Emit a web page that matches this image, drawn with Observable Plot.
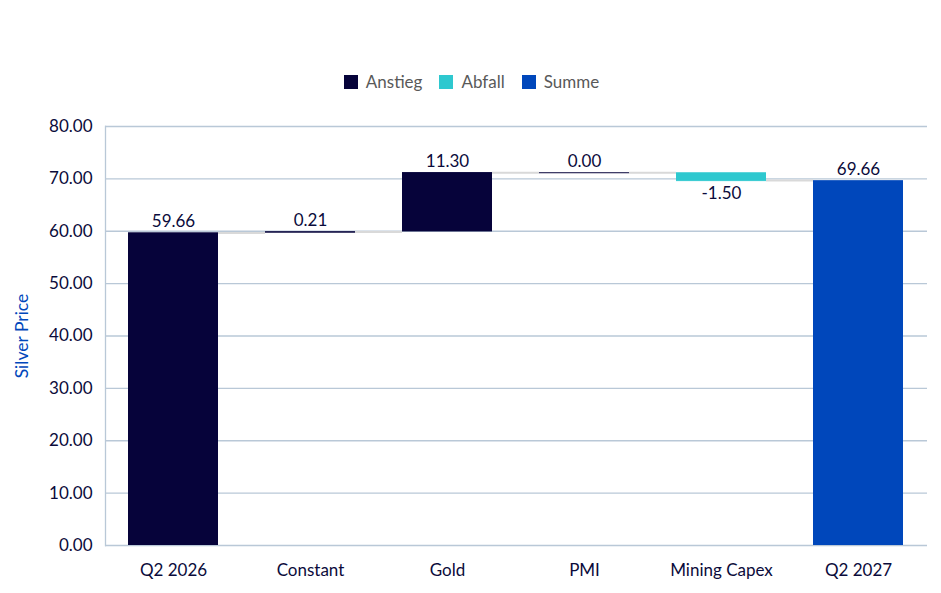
<!DOCTYPE html>
<html>
<head>
<meta charset="utf-8">
<script src="https://cdn.jsdelivr.net/npm/d3@7"></script>
<script src="https://cdn.jsdelivr.net/npm/@observablehq/plot@0.6"></script>
<style>
  body { margin: 0; background: #fff; font-family: Lato, "Open Sans", sans-serif; }
  #legend { height: 100px; position: relative; width: 941px; }
  #legend .items { position: absolute; top: 71px; left: 0; width: 941px; display: flex; justify-content: center; gap: 17px; font-size: 17px; color: #595959; padding-left: 2px; box-sizing: border-box;}
  #legend .item { display: flex; align-items: center; gap: 8px; }
  #legend .sw { width: 14px; height: 14px; display: inline-block; }
</style>
</head>
<body>
<div id="legend"><div class="items"></div></div>
<div id="chart"></div>
<script>
const categories = ["Q2 2026", "Constant", "Gold", "PMI", "Mining Capex", "Q2 2027"];
const values = [59.66, 0.21, 11.30, 0.00, -1.50, 69.66];
const types = ["Anstieg", "Anstieg", "Anstieg", "Anstieg", "Abfall", "Summe"];
const legendLabels = ["Anstieg", "Abfall", "Summe"];
const legendColors = ["#06033a", "#2ec8cf", "#0047bb"];
const yTicks = [0, 10, 20, 30, 40, 50, 60, 70, 80];
const yTitle = "Silver Price";

// build waterfall table
let running = 0;
const rows = categories.map((c, i) => {
  let y1, y2;
  if (types[i] === "Summe") { y1 = 0; y2 = values[i]; }
  else { y1 = running; y2 = running + values[i]; }
  running = types[i] === "Summe" ? values[i] : y2;
  return { cat: c, value: values[i], type: types[i], y1, y2, top: Math.max(y1, y2), bottom: Math.min(y1, y2), end: y2 };
});
const connectors = rows.slice(1).map((r, i) => ({ cat: r.cat, y: rows[i].end }));
const fmt = v => v.toFixed(2);

// legend
const items = document.querySelector("#legend .items");
legendLabels.forEach((l, i) => {
  const it = document.createElement("div");
  it.className = "item";
  it.innerHTML = `<span class="sw" style="background:${legendColors[i]}"></span><span>${l}</span>`;
  items.appendChild(it);
});

const width = 941, height = 493, mL = 105, mR = 14;
const pInner = 0.343;
const step = (width - mL - mR) / categories.length;
const bw = step * (1 - pInner);
const gap = step - bw;
const textColor = "#0b0b3b";
const gridColor = "#b9c8d7";

const chart = Plot.plot({
  width, height,
  marginLeft: mL, marginRight: mR, marginTop: 26, marginBottom: 48,
  style: { fontFamily: "Lato, 'Open Sans', sans-serif", fontSize: "17px", color: textColor, background: "#fff" },
  x: { domain: categories, paddingInner: pInner, paddingOuter: pInner / 2, label: null },
  y: { domain: [0, 80], label: null },
  color: { domain: legendLabels, range: legendColors },
  marks: [
    Plot.gridY(yTicks, { stroke: gridColor, strokeOpacity: 1, strokeWidth: 1.3 }),
    Plot.frame({ anchor: "left", stroke: gridColor, strokeWidth: 1.3 }),
    Plot.axisY(yTicks, { tickSize: 0, tickPadding: 13, tickFormat: fmt, label: null, fill: textColor, fontSize: 17 }),
    Plot.axisX({ tickSize: 0, tickPadding: 18, label: null, fill: textColor, fontSize: 17 }),
    Plot.text([yTitle], { frameAnchor: "left", textAnchor: "middle", dx: -83, rotate: -90, fill: "#0047bb", fontSize: 17.5 }),
    Plot.tickY(connectors, { x: "cat", y: "y", stroke: "#d9d9d9", strokeWidth: 2, insetLeft: -gap, insetRight: bw }),
    Plot.barY(rows, { x: "cat", y1: "y1", y2: "y2", fill: "type" }),
    Plot.tickY(rows.filter(r => r.type !== "Summe"), { x: "cat", y: "end", stroke: "type", strokeWidth: 1 }),
    Plot.text(rows.filter(r => r.value >= 0), { x: "cat", y: "top", text: d => fmt(d.value), dy: -11, fill: textColor, fontSize: 17 }),
    Plot.text(rows.filter(r => r.value < 0), { x: "cat", y: "bottom", text: d => fmt(d.value), dy: 13, fill: textColor, fontSize: 17 })
  ]
});
document.getElementById("chart").appendChild(chart);
</script>
</body>
</html>
